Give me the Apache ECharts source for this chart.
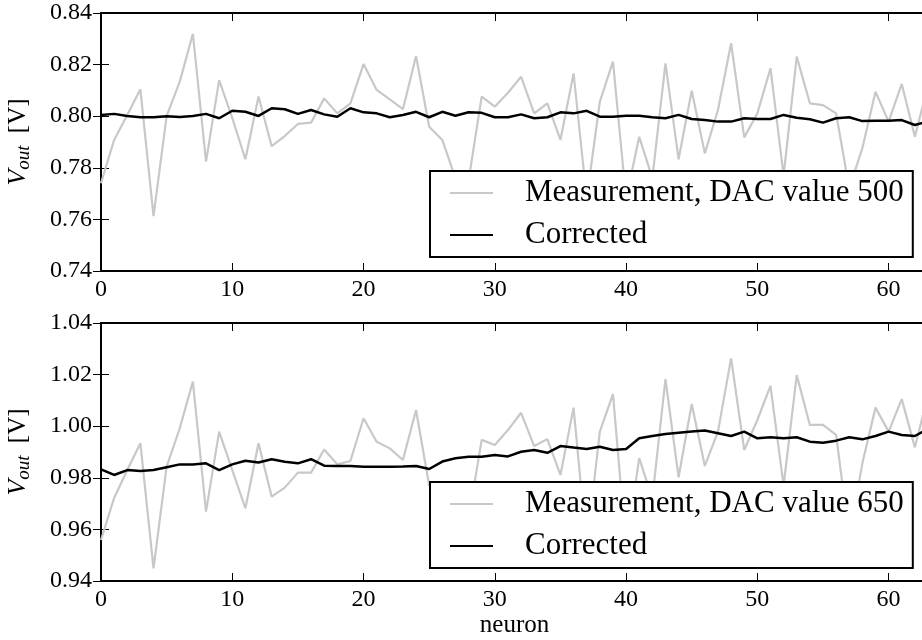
<!DOCTYPE html>
<html>
<head>
<meta charset="utf-8">
<script src="https://cdn.jsdelivr.net/npm/echarts@6/dist/echarts.min.js"></script>
<style>
  html, body { margin: 0; padding: 0; overflow: hidden; background: #fff; }
  #chart { width: 932px; height: 640px; }
</style>
</head>
<body>
<div id="chart"></div>
<script>
// Output voltage per neuron: raw measurement vs. corrected, for two DAC settings.
const neurons = Array.from({ length: 64 }, (_, i) => i);

const measured500 = [
  0.774, 0.7908, 0.8005, 0.8104, 0.7613, 0.800, 0.8134, 0.8319, 0.7824, 0.814,
  0.7993, 0.7833, 0.8076, 0.7884, 0.7923, 0.797, 0.7975, 0.8069, 0.8011, 0.805,
  0.8202, 0.8102, 0.8065, 0.8027, 0.8233, 0.7959, 0.7908, 0.776, 0.775, 0.8076,
  0.8037, 0.8091, 0.8153, 0.8011, 0.805, 0.7908, 0.8166, 0.768, 0.8056, 0.8212,
  0.768, 0.792, 0.776, 0.8205, 0.7833, 0.8099, 0.7856, 0.8024, 0.8283, 0.7918,
  0.8011, 0.8186, 0.777, 0.8231, 0.805, 0.8043, 0.8011, 0.772, 0.7876, 0.8095,
  0.7979, 0.8125, 0.792, 0.812
];
const corrected500 = [
  0.8005, 0.8009, 0.8001, 0.7996, 0.7996, 0.8000, 0.7997, 0.8001, 0.8009, 0.7992,
  0.8021, 0.8017, 0.8001, 0.8031, 0.8027, 0.8009, 0.8024, 0.8007, 0.7998, 0.8031,
  0.8015, 0.8011, 0.7996, 0.8005, 0.8017, 0.7996, 0.8017, 0.8002, 0.8015, 0.8013,
  0.7996, 0.7996, 0.8007, 0.7992, 0.7996, 0.8015, 0.8011, 0.8021, 0.7998, 0.7998,
  0.8002, 0.8002, 0.7996, 0.7992, 0.8005, 0.7989, 0.7985, 0.7979, 0.7979, 0.7992,
  0.7989, 0.7989, 0.8005, 0.7994, 0.7988, 0.7975, 0.7992, 0.7996, 0.7981, 0.7982,
  0.7982, 0.7985, 0.7966, 0.798
];
const measured650 = [
  0.9559, 0.9722, 0.983, 0.9934, 0.9449, 0.9843, 0.9992, 1.0173, 0.9669, 0.9979,
  0.983, 0.9682, 0.9934, 0.9727, 0.9762, 0.982, 0.982, 0.991, 0.9852, 0.9865,
  1.0031, 0.994, 0.9914, 0.9869, 1.0063, 0.977, 0.972, 0.960, 0.964, 0.9947,
  0.9927, 0.9985, 1.0052, 0.9923, 0.995, 0.9811, 1.0072, 0.953, 0.9979, 1.0124,
  0.953, 0.9876, 0.972, 1.0182, 0.9802, 1.0086, 0.9846, 0.9979, 1.0263, 0.9908,
  1.0024, 1.0156, 0.977, 1.0198, 1.0005, 1.0005, 0.9966, 0.957, 0.9856, 1.0072,
  0.9979, 1.0105, 0.9918, 1.012
];
const corrected650 = [
  0.9833, 0.9811, 0.983, 0.9826, 0.983, 0.9841, 0.9852, 0.9852, 0.9856, 0.983,
  0.9852, 0.9866, 0.9859, 0.9872, 0.9862, 0.9856, 0.9872, 0.9847, 0.9846, 0.9846,
  0.9843, 0.9843, 0.9843, 0.9844, 0.9846, 0.9834, 0.9863, 0.9876, 0.9882, 0.9882,
  0.9888, 0.9883, 0.9901, 0.9908, 0.9897, 0.9923, 0.9917, 0.9912, 0.992, 0.9908,
  0.9912, 0.9953, 0.9962, 0.997, 0.9975, 0.9979, 0.9983, 0.9973, 0.9962, 0.9979,
  0.9953, 0.9957, 0.9953, 0.9957, 0.994, 0.9936, 0.9944, 0.9957, 0.9949, 0.9962,
  0.9979, 0.9966, 0.9962, 0.999
];

const xTicks = [0, 10, 20, 30, 40, 50, 60];
const names = {
  m500: 'Measurement, DAC value 500',
  m650: 'Measurement, DAC value 650',
  corr: 'Corrected'
};

const FONT = 'Liberation Serif';
const GRAY = '#c8c8c8';

const pairs = (ys) => neurons.map((x, i) => [x, ys[i]]);

const spine = { show: true, lineStyle: { color: '#000', width: 2 } };
const tickIn = { show: true, inside: true, length: 8, lineStyle: { color: '#000', width: 1 } };
const labelStyle = { color: '#000', fontFamily: FONT, fontSize: 24 };

function xAxes(gridIndex, withName) {
  return [
    {
      type: 'value', gridIndex, min: 0, max: 63, interval: 10,
      position: 'bottom',
      axisLine: spine, axisTick: tickIn, splitLine: { show: false },
      axisLabel: Object.assign({
        margin: 7, showMaxLabel: false,
        formatter: (v) => (xTicks.includes(v) ? String(v) : '')
      }, labelStyle),
      name: withName ? 'neuron' : '',
      nameLocation: 'middle', nameGap: 32,
      nameTextStyle: { color: '#000', fontFamily: FONT, fontSize: 25 }
    },
    {
      type: 'value', gridIndex, min: 0, max: 63, interval: 10,
      position: 'top',
      axisLine: spine, axisTick: tickIn, splitLine: { show: false },
      axisLabel: { show: false }
    }
  ];
}

function yAxes(gridIndex, min, max) {
  return [
    {
      type: 'value', gridIndex, min, max, interval: 0.02,
      position: 'left',
      axisLine: spine, axisTick: tickIn, splitLine: { show: false },
      axisLabel: Object.assign({ margin: 9, formatter: (v) => v.toFixed(2) }, labelStyle),
      name: '{v|V}{s|out} [V]',
      nameLocation: 'middle', nameRotate: 90, nameGap: 68,
      nameTextStyle: {
        color: '#000', fontFamily: FONT, fontSize: 25, lineHeight: 30,
        rich: {
          v: { fontFamily: FONT, fontStyle: 'italic', fontSize: 26, lineHeight: 30, color: '#000' },
          s: { fontFamily: FONT, fontStyle: 'italic', fontSize: 19, lineHeight: 22,
               verticalAlign: 'bottom', color: '#000', padding: [0, 6, 0, 0] }
        }
      }
    },
    {
      type: 'value', gridIndex, min, max, interval: 0.02,
      position: 'right',
      axisLine: spine, axisTick: tickIn, splitLine: { show: false },
      axisLabel: { show: false }
    }
  ];
}

function legendAt(top, first) {
  return {
    orient: 'vertical', left: 430, top,
    data: [first, names.corr],
    selectedMode: false,
    icon: 'rect', itemWidth: 43, itemHeight: 2, itemGap: 8,
    padding: [5, 9, 5, 20],
    backgroundColor: '#fff', borderColor: '#000', borderWidth: 2, borderRadius: 0,
    textStyle: { color: '#000', fontFamily: FONT, fontSize: 31, lineHeight: 34, padding: [0, 0, 0, 27] }
  };
}

function lineSeries(name, xi, yi, ys, color, width, z) {
  return {
    type: 'line', name, xAxisIndex: xi, yAxisIndex: yi,
    data: pairs(ys), symbol: 'none', showSymbol: false, animation: false,
    color, lineStyle: { color, width }, itemStyle: { color }, z
  };
}

const chart = echarts.init(document.getElementById('chart'), null, { renderer: 'canvas' });
chart.setOption({
  animation: false,
  backgroundColor: '#fff',
  grid: [
    { left: 101, right: 4, top: 13, height: 258, outerBoundsMode: 'none', containLabel: false },
    { left: 101, right: 4, top: 323, height: 258, outerBoundsMode: 'none', containLabel: false }
  ],
  xAxis: [...xAxes(0, false), ...xAxes(1, true)],
  yAxis: [...yAxes(0, 0.74, 0.84), ...yAxes(1, 0.94, 1.04)],
  legend: [legendAt(171, names.m500), legendAt(482, names.m650)],
  series: [
    lineSeries(names.m500, 0, 0, measured500, GRAY, 2.2, 2),
    lineSeries(names.corr, 0, 0, corrected500, '#000', 2.5, 3),
    lineSeries(names.m650, 2, 2, measured650, GRAY, 2.2, 2),
    lineSeries(names.corr, 2, 2, corrected650, '#000', 2.5, 3)
  ]
});
</script>
</body>
</html>
